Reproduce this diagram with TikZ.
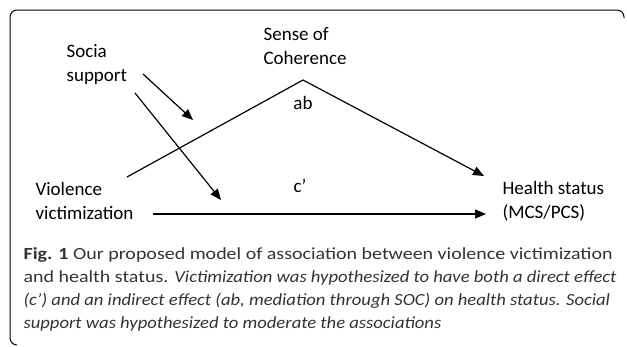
\documentclass[tikz,border=0pt]{standalone}
\usepackage{fontspec}
\setmainfont{Carlito}
\newfontfamily\capfont[FakeStretch=1.175]{Carlito}
\newfontfamily\capitfont[FakeStretch=1.095]{Carlito}
\usetikzlibrary{arrows.meta}
\tikzstyle{var} = [align=left, anchor=west, inner sep=0pt,
    font=\fontsize{19}{24}\selectfont]
\tikzstyle{coef} = [inner sep=0pt, font=\fontsize{19}{24}\selectfont]
\tikzstyle{capt} = [align=left, anchor=north west, inner sep=0pt,
    text=black!80, font=\capfont\fontsize{17}{23}\selectfont]
\newcommand{\capit}[1]{{\capitfont\itshape #1}}

\begin{document}
\begin{tikzpicture}[x=1pt,y=-1pt,>={Triangle[length=11pt,width=9pt]},
                    line width=1.2pt]
  \useasboundingbox (0,0) rectangle (627,346);

  % frame round figure and caption
  \draw[rounded corners=7pt,line width=1pt]
    (17,345) -- (10,345) -- (10,10) -- (624,10) -- (624,18);

  \node[var] (soc) at (66,64)  {Socia\\support};
  \node[var] (coh) at (263,46) {Sense of\\Coherence};
  \node[var] (vic) at (35,201) {Violence\\victimization};
  \node[var] (hs)  at (502,201) {Health status\\(MCS/PCS)};

  \node[coef] (ab) at (303,103) {ab};
  \node[coef] (c)  at (300,186) {c’};

  \coordinate (peak) at (303,80);
  \coordinate (v1) at (127,177);
  \coordinate (v2) at (153,214);
  \coordinate (h1) at (484,176);
  \coordinate (h2) at (486,214);
  \coordinate (s1) at (143,74);
  \coordinate (s2) at (135,93);
  \coordinate (m1) at (193,120);
  \coordinate (m2) at (221,200);

  \draw (v1) -- (peak);
  \draw[->] (peak) -- (h1);
  \draw[->] (v2) -- (h2);
  \draw[->] (s1) -- (m1);
  \draw[->] (s2) -- (m2);

  \node[capt] (cap) at (23,247)
    {\textbf{Fig. 1} Our proposed model of association between violence victimization\\
     and health status. \capit{Victimization was hypothesized to have both a direct effect}\\
     \capit{(c’) and an indirect effect (ab, mediation through SOC) on health status. Social}\\
     \capit{support was hypothesized to moderate the associations}};
\end{tikzpicture}
\end{document}
